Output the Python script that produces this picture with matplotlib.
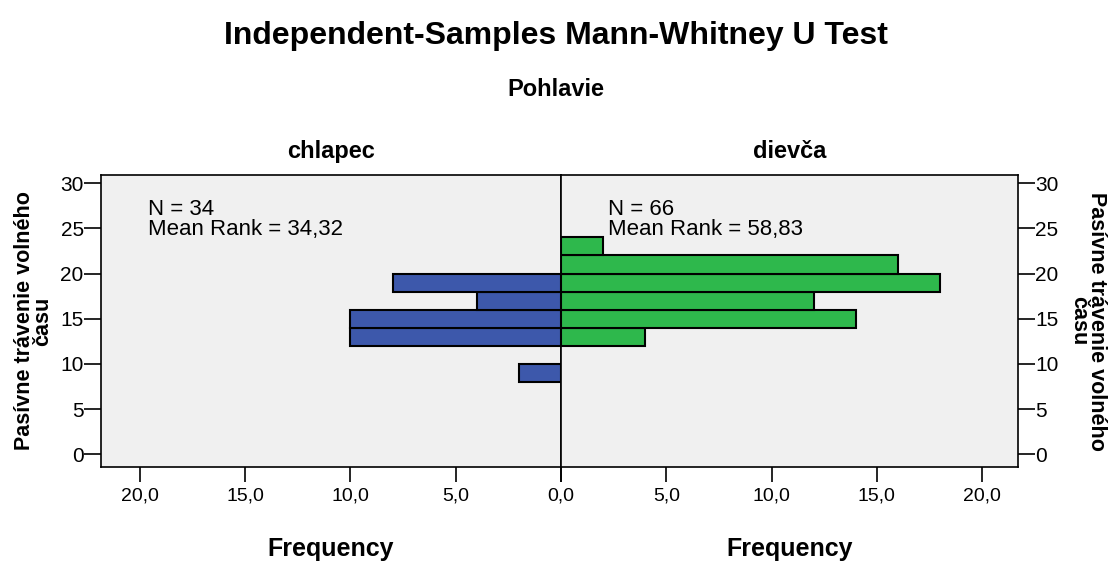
import matplotlib
matplotlib.use("Agg")
import matplotlib.pyplot as plt
import numpy as np

# bin centres (Pasivne travenie volneho casu) and counts per group
boy_bins = [9, 13, 15, 17, 19]
boy_counts = [2, 10, 10, 4, 8]
girl_bins = [13, 15, 17, 19, 21, 23]
girl_counts = [4, 14, 12, 18, 16, 2]
bin_width = 2

groups = ["chlapec", "dievča"]
group_n = [34, 66]
mean_ranks = ["34,32", "58,83"]

x_ticks = [0, 5, 10, 15, 20]
y_ticks = [0, 5, 10, 15, 20, 25, 30]
y_label = "Pasívne trávenie volného\nčasu"

blue = "#3D58AB"
green = "#2EB84C"
panel_bg = "#F0F0F0"
plt.rcParams["font.family"] = ["Liberation Sans", "DejaVu Sans"]

fig = plt.figure(figsize=(11.11, 5.61), dpi=100)
ax_l = fig.add_axes([101 / 1111, 94 / 561, 460 / 1111, 292 / 561])
ax_r = fig.add_axes([561 / 1111, 94 / 561, 457 / 1111, 292 / 561])

ax_l.barh(boy_bins, boy_counts, height=bin_width, color=blue,
          edgecolor="black", linewidth=1.5)
ax_r.barh(girl_bins, girl_counts, height=bin_width, color=green,
          edgecolor="black", linewidth=1.5)

tick_txt = [f"{t:.1f}".replace(".", ",") for t in x_ticks]
ax_l.set_xlim(21.85, 0)
ax_r.set_xlim(0, 21.7)
for ax in (ax_l, ax_r):
    ax.set_facecolor(panel_bg)
    ax.set_ylim(-1.4, 30.9)
    ax.set_xticks(x_ticks)
    ax.set_yticks(y_ticks)
    ax.tick_params(axis="x", length=11, width=1.2, labelsize=14, pad=4)
    ax.tick_params(axis="y", length=12, width=1.2, labelsize=15, pad=0.5)
    for sp in ax.spines.values():
        sp.set_linewidth(1.2)
    ax.set_xlabel("Frequency", fontsize=18, fontweight="bold")
    ax.xaxis.label.set_va("center")
    ax.xaxis.set_label_coords(0.5, -0.281)
ax_l.set_xticklabels([""] + tick_txt[1:])
ax_r.set_xticklabels(tick_txt)

ax_l.yaxis.tick_left()
ax_r.yaxis.tick_right()
ax_l.set_ylabel(y_label, fontsize=15.5, fontweight="bold",
                linespacing=0.85, va="center")
ax_l.yaxis.set_label_coords(-0.147, 0.5)
ax_r.yaxis.set_label_position("right")
ax_r.set_ylabel(y_label, fontsize=15.5, fontweight="bold",
                linespacing=0.85, rotation=270, va="center")
ax_r.yaxis.set_label_coords(1.152, 0.5)

ax_l.text(0.102, 0.848, f"N = {group_n[0]}\nMean Rank = {mean_ranks[0]}",
          transform=ax_l.transAxes, fontsize=16, va="center",
          linespacing=0.95)
ax_r.text(0.103, 0.848, f"N = {group_n[1]}\nMean Rank = {mean_ranks[1]}",
          transform=ax_r.transAxes, fontsize=16, va="center",
          linespacing=0.95)

ax_l.set_title(groups[0], fontsize=17, fontweight="bold", pad=12)
ax_r.set_title(groups[1], fontsize=17, fontweight="bold", pad=12)

fig.text(0.5, 1 - 36 / 561, "Independent-Samples Mann-Whitney U Test",
         ha="center", va="center", fontsize=23, fontweight="bold")
fig.text(0.5, 1 - 89 / 561, "Pohlavie", ha="center", va="center",
         fontsize=17, fontweight="bold")

fig.savefig("out.png", dpi=100)
